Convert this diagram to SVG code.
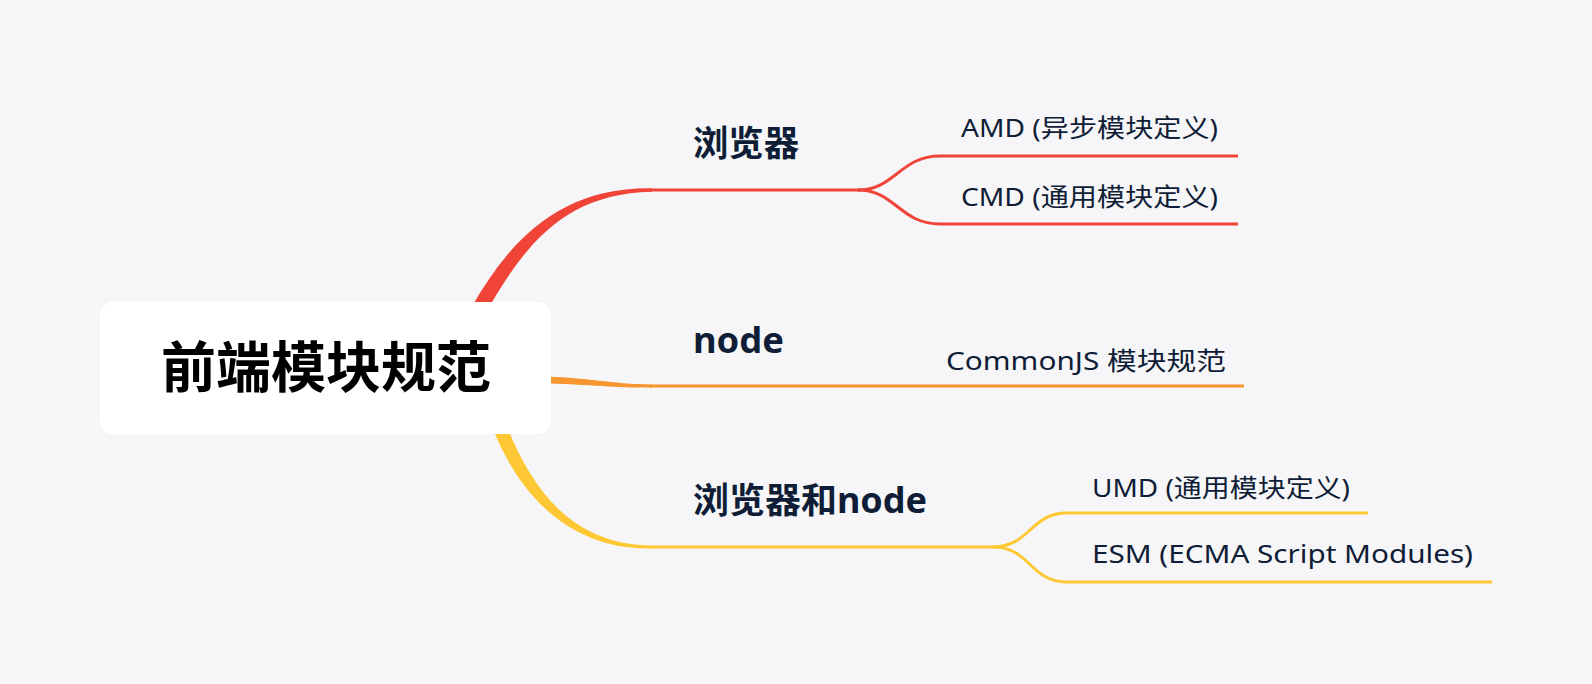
<svg xmlns="http://www.w3.org/2000/svg" width="1592" height="684" viewBox="0 0 1592 684">
<style>
.t{font-family:"Noto Sans","Noto Sans CJK SC",sans-serif;fill:#0F1D36}
.b{font-weight:bold;font-size:35px}
.s{font-size:25px}
.thin{fill:none;stroke-width:3;stroke-linecap:butt}
</style>
<rect x="0" y="0" width="1592" height="684" fill="#F6F6F8"/>
<g id="connectors">
  <path fill="#F04438" d="M471.5,307.3 C510,240 560,187 652,188.3 L652,191.7 C562,193.5 523,248 484.5,314.7 Z"/>
  <path class="thin" stroke="#F04438" d="M650,190 L860,190"/>
  <path class="thin" stroke="#F04438" d="M858,190 C895,190 900,156 940,156 L1238,156"/>
  <path class="thin" stroke="#F04438" d="M858,190 C895,190 900,224 940,224 L1238,224"/>
  <path fill="#F7952E" d="M540,376.5 C590,377.5 610,384 652,384.5 L652,387.5 C610,388 590,384 540,383.5 Z"/>
  <path class="thin" stroke="#F7952E" d="M650,386 L1244,386"/>
  <path fill="#FEC835" d="M506.5,425.4 C531,487 570,544.8 652,545.5 L652,548.5 C568,550 519,493 493.5,430.6 Z"/>
  <path class="thin" stroke="#FEC835" d="M650,547 L995,547"/>
  <path class="thin" stroke="#FEC835" d="M993,547 C1030,547 1030,513 1067,513 L1368,513"/>
  <path class="thin" stroke="#FEC835" d="M993,547 C1030,547 1030,582 1067,582 L1492,582"/>
</g>
<g id="root">
  <rect x="100" y="302" width="451" height="132" rx="13" fill="#FFFFFF"/>
  <text x="326" y="387" text-anchor="middle" font-family="'Noto Sans CJK SC',sans-serif" font-weight="bold" font-size="55" fill="#000">前端模块规范</text>
</g>
<g id="browser">
  <text class="t b" x="693" y="156" textLength="106" lengthAdjust="spacingAndGlyphs">浏览器</text>
</g>
<g id="amd">
  <text class="t s" x="961" y="137" textLength="257" lengthAdjust="spacingAndGlyphs">AMD (异步模块定义)</text>
</g>
<g id="cmd">
  <text class="t s" x="961" y="206" textLength="257" lengthAdjust="spacingAndGlyphs">CMD (通用模块定义)</text>
</g>
<g id="node">
  <text class="t b" x="693" y="353" textLength="91" lengthAdjust="spacingAndGlyphs">node</text>
</g>
<g id="commonjs">
  <text class="t s" x="946" y="370" textLength="280" lengthAdjust="spacingAndGlyphs">CommonJS 模块规范</text>
</g>
<g id="both">
  <text class="t b" x="693" y="513" textLength="234" lengthAdjust="spacingAndGlyphs">浏览器和node</text>
</g>
<g id="umd">
  <text class="t s" x="1092" y="497" textLength="258" lengthAdjust="spacingAndGlyphs">UMD (通用模块定义)</text>
</g>
<g id="esm">
  <text class="t s" x="1092" y="563" textLength="381" lengthAdjust="spacingAndGlyphs">ESM (ECMA Script Modules)</text>
</g>
</svg>
